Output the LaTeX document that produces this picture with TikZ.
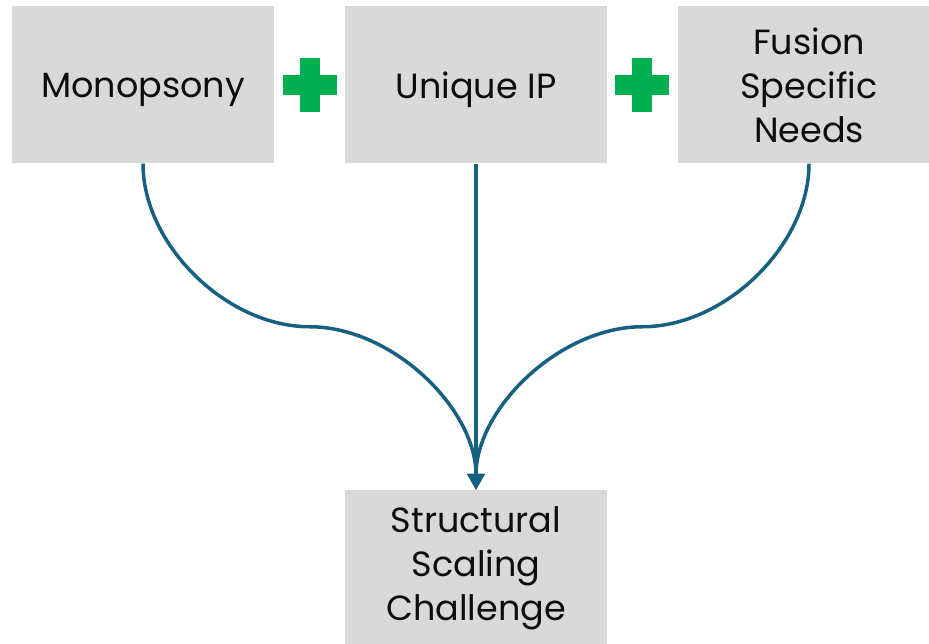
\documentclass[tikz,border=0pt]{standalone}
\usepackage{fontspec}
\setmainfont{Poppins}
\usetikzlibrary{arrows.meta,calc}
\definecolor{boxgray}{HTML}{D9D9D9}
\definecolor{plusgreen}{HTML}{00B050}
\definecolor{linkblue}{RGB}{22,96,130}
\definecolor{inktext}{HTML}{0D0D0D}
\tikzset{
  block/.style={fill=boxgray, minimum width=262pt, minimum height=157pt,
    inner sep=0pt, align=center, text=inktext,
    font=\fontsize{35}{44}\selectfont},
  oneline/.style={text depth=0pt},
  link/.style={draw=linkblue, line width=3.5pt,
    -{Triangle[length=16pt,width=17pt]}},
  plusmark/.style={fill=plusgreen},
}
\begin{document}
\begin{tikzpicture}[x=1pt,y=-1pt]
\useasboundingbox (0,0) rectangle (929,644);
\clip (0,0) rectangle (929,644);

% the three factors and the outcome
\node[block,oneline] (mono) at (143,85) {Monopsony};
\node[block,oneline] (ip)   at (476,85) {Unique IP};
\node[block] (fuse) at (809,85)    {Fusion\\Specific\\Needs};
\node[block] (goal) at (476,568.5) {Structural\\Scaling\\Challenge};

% plus signs between the factors
\foreach \cx in {309.5,642} {
  \fill[plusmark] (\cx-27,75) rectangle (\cx+27,95);
  \fill[plusmark] (\cx-10,58) rectangle (\cx+10,112);
}

% bend points of the curved connectors
\coordinate (bendL) at ($(mono.south)!0.5!(goal.north)$);
\coordinate (bendR) at ($(fuse.south)!0.5!(goal.north)$);

% connectors
\draw[link] (mono.south) .. controls +(0,81) and +(-83,0) .. (bendL)
            .. controls +(83,0) and +(0,-81) .. (goal.north);
\draw[link] (ip.south) -- (goal.north);
\draw[link] (fuse.south) .. controls +(0,81) and +(83,0) .. (bendR)
            .. controls +(-83,0) and +(0,-81) .. (goal.north);
\end{tikzpicture}
\end{document}
